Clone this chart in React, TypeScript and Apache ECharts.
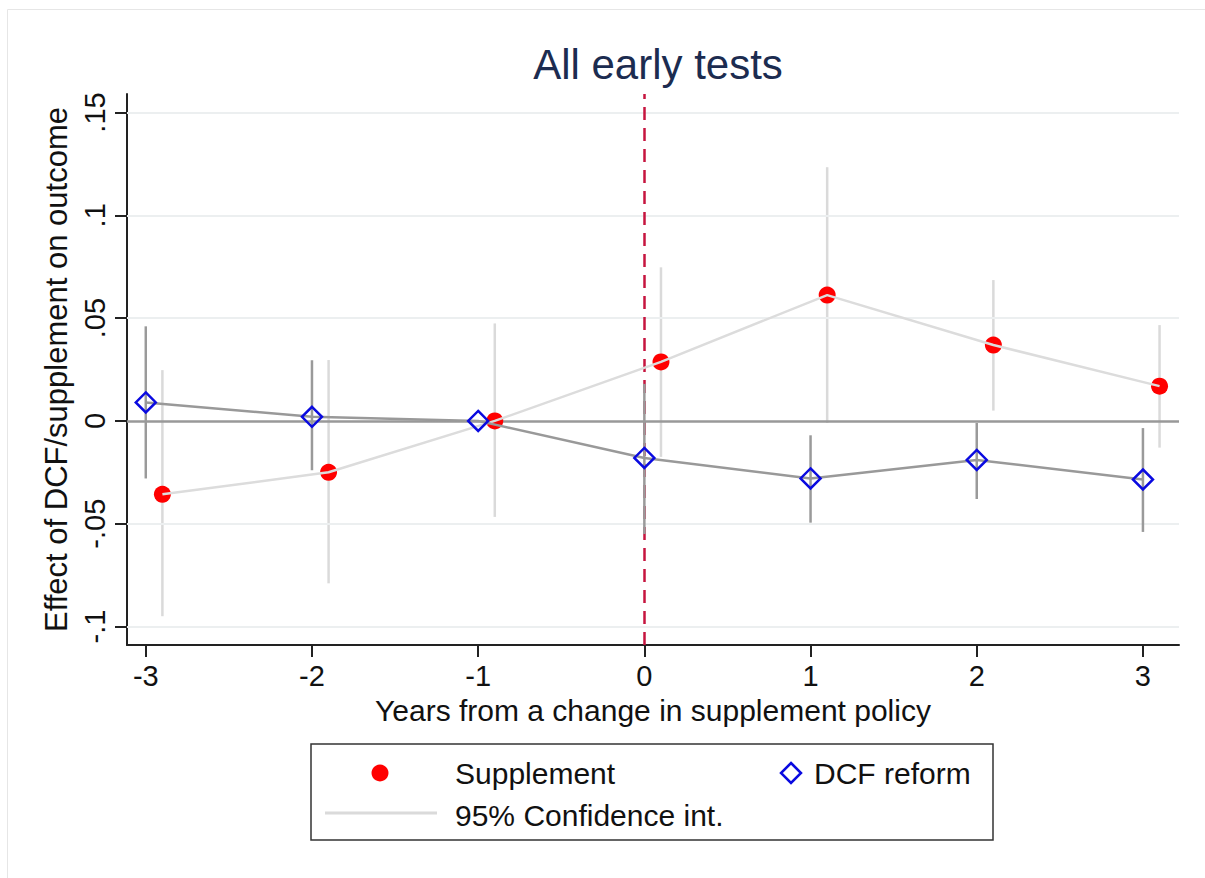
import React, { useEffect, useRef } from "react";
import * as echarts from "echarts";

// ---- data ----
const xTicks = [-3, -2, -1, 0, 1, 2, 3];
const yTicks = [-0.1, -0.05, 0, 0.05, 0.1, 0.15];
const yGridValues = [-0.1, -0.05, 0.05, 0.1, 0.15];

const dcfYears = [-3, -2, -1, 0, 1, 2, 3];
const dcfEst = [0.009, 0.002, 0, -0.018, -0.028, -0.019, -0.0285];
const dcfLo = [-0.028, -0.024, null, -0.055, -0.0495, -0.038, -0.054];
const dcfHi = [0.046, 0.0295, null, 0.018, -0.007, -0.001, -0.0035];

const suppYears = [-2.9, -1.9, -0.9, 0.1, 1.1, 2.1, 3.1];
const suppEst = [-0.0357, -0.025, 0, 0.0287, 0.0612, 0.0369, 0.0169];
const suppLo = [-0.095, -0.079, -0.0467, -0.0175, -0.001, 0.005, -0.013];
const suppHi = [0.0247, 0.0296, 0.0474, 0.0747, 0.1234, 0.0685, 0.0466];

const titleText = "All early tests";
const xTitle = "Years from a change in supplement policy";
const yTitle = "Effect of DCF/supplement on outcome";
const legendLabels = ["Supplement", "DCF reform", "95% Confidence int."];

const FONT = "'Liberation Sans', Arial, Helvetica, sans-serif";

function fmtY(v: number): string {
  if (Math.abs(v) < 1e-9) return "0";
  const s = String(parseFloat(v.toFixed(2)));
  return s.replace(/^(-?)0\./, "$1.");
}

function ciRender(color: string) {
  return (params: any, api: any) => {
    const lo = api.value(1);
    const hi = api.value(2);
    if (lo == null || hi == null || isNaN(lo) || isNaN(hi)) return null;
    const x = api.value(0);
    const p1 = api.coord([x, lo]);
    const p2 = api.coord([x, hi]);
    return {
      type: "line",
      shape: { x1: p1[0], y1: p1[1], x2: p2[0], y2: p2[1] },
      style: { stroke: color, lineWidth: 2.5 },
    };
  };
}

export default function App() {
  const ref = useRef<HTMLDivElement>(null);

  useEffect(() => {
    document.body.style.margin = "0";
    if (!ref.current) return;
    const chart = echarts.init(ref.current, undefined, { renderer: "svg" });

    const suppPts = suppYears.map((x, i) => [x, suppEst[i]]);
    const dcfPts = dcfYears.map((x, i) => [x, dcfEst[i]]);
    const suppCI = suppYears.map((x, i) => [x, suppLo[i], suppHi[i]]);
    const dcfCI = dcfYears.map((x, i) => [x, dcfLo[i] ?? NaN, dcfHi[i] ?? NaN]);

    const option: any = {
      animation: false,
      backgroundColor: "#ffffff",
      title: {
        text: titleText,
        left: 653,
        top: 38,
        textAlign: "center",
        textStyle: { fontFamily: FONT, fontSize: 42, fontWeight: "normal", color: "#1c2c50" },
      },
      grid: { left: 127, top: 94, right: 26, bottom: 233, containLabel: false },
      xAxis: {
        type: "value",
        min: -3.113,
        max: 3.217,
        name: xTitle,
        nameLocation: "middle",
        nameGap: 50,
        nameTextStyle: { fontFamily: FONT, fontSize: 30, color: "#111" },
        axisLine: { show: true, onZero: false, lineStyle: { color: "#222", width: 2 } },
        axisTick: { show: true, length: 12, customValues: xTicks, lineStyle: { color: "#222", width: 2 } },
        axisLabel: {
          customValues: xTicks,
          margin: 16,
          fontFamily: FONT,
          fontSize: 29,
          color: "#111",
          formatter: (v: number) => String(v),
        },
        splitLine: { show: false },
      },
      yAxis: {
        type: "value",
        min: -0.109,
        max: 0.159,
        name: yTitle,
        nameLocation: "middle",
        nameRotate: 90,
        nameGap: 52,
        nameTextStyle: { fontFamily: FONT, fontSize: 31, color: "#111" },
        axisLine: { show: true, onZero: false, lineStyle: { color: "#222", width: 2 } },
        axisTick: { show: true, length: 12, customValues: yTicks, lineStyle: { color: "#222", width: 2 } },
        axisLabel: {
          customValues: yTicks,
          rotate: 90,
          margin: 18,
          fontFamily: FONT,
          fontSize: 29,
          color: "#111",
          formatter: (v: number) => fmtY(v),
        },
        splitLine: { show: false },
      },
      series: [
        {
          name: "grid",
          type: "line",
          data: [],
          z: 1,
          silent: true,
          markLine: {
            silent: true,
            symbol: "none",
            label: { show: false },
            lineStyle: { color: "#eceff0", width: 2, type: "solid" },
            data: yGridValues.map((v) => ({ yAxis: v })),
          },
        },
        {
          name: "xline",
          type: "line",
          data: [],
          z: 2,
          silent: true,
          markLine: {
            silent: true,
            symbol: "none",
            label: { show: false },
            lineStyle: { color: "#c6153f", width: 2.5, type: [13, 8] },
            data: [{ xAxis: 0 }],
          },
        },
        {
          name: "zero",
          type: "line",
          data: [],
          z: 3,
          silent: true,
          markLine: {
            silent: true,
            symbol: "none",
            label: { show: false },
            lineStyle: { color: "#999999", width: 2.5, type: "solid" },
            data: [{ yAxis: 0 }],
          },
        },
        {
          name: "Supplement CI",
          type: "custom",
          z: 4,
          renderItem: ciRender("#dadada"),
          data: suppCI,
          encode: { x: 0, y: [1, 2] },
        },
        {
          name: "DCF CI",
          type: "custom",
          z: 5,
          renderItem: ciRender("#9a9a9a"),
          data: dcfCI,
          encode: { x: 0, y: [1, 2] },
        },
        {
          name: "Supplement",
          type: "scatter",
          z: 6,
          symbol: "circle",
          symbolSize: 17,
          itemStyle: { color: "#ff0000", opacity: 1 },
          data: suppPts,
        },
        {
          name: "Supplement line",
          type: "line",
          z: 7,
          symbol: "none",
          lineStyle: { color: "#dcdcdc", width: 2.5 },
          data: suppPts,
        },
        {
          name: "DCF line",
          type: "line",
          z: 8,
          symbol: "none",
          lineStyle: { color: "#999999", width: 2.5 },
          data: dcfPts,
        },
        {
          name: "DCF reform",
          type: "scatter",
          z: 9,
          symbol: "diamond",
          symbolSize: [20, 20],
          itemStyle: { color: "rgba(0,0,0,0)", borderColor: "#0a0ae0", borderWidth: 2.5, opacity: 1 },
          data: dcfPts,
        },
      ],
      graphic: [
        {
          type: "rect",
          shape: { x: 7.5, y: 9.5, width: 1200, height: 872 },
          style: { fill: "none", stroke: "#e6e6e6", lineWidth: 1 },
          silent: true,
        },
        {
          type: "group",
          children: [
            {
              type: "rect",
              shape: { x: 311, y: 744, width: 682, height: 96 },
              style: { fill: "#ffffff", stroke: "#333333", lineWidth: 1.5 },
            },
            {
              type: "circle",
              shape: { cx: 380, cy: 773, r: 8.5 },
              style: { fill: "#ff0000" },
            },
            {
              type: "text",
              x: 455,
              y: 773,
              style: {
                text: legendLabels[0],
                fontFamily: FONT,
                fontSize: 30,
                fill: "#111",
                textVerticalAlign: "middle",
                verticalAlign: "middle",
              },
            },
            {
              type: "polygon",
              shape: { points: [[791, 763], [801, 773], [791, 783], [781, 773]] },
              style: { fill: "none", stroke: "#0a0ae0", lineWidth: 2.5 },
            },
            {
              type: "text",
              x: 814,
              y: 773,
              style: {
                text: legendLabels[1],
                fontFamily: FONT,
                fontSize: 30,
                fill: "#111",
                textVerticalAlign: "middle",
                verticalAlign: "middle",
              },
            },
            {
              type: "line",
              shape: { x1: 325, y1: 813, x2: 437, y2: 813 },
              style: { stroke: "#dadada", lineWidth: 3 },
            },
            {
              type: "text",
              x: 455,
              y: 815,
              style: {
                text: legendLabels[2],
                fontFamily: FONT,
                fontSize: 30,
                fill: "#111",
                textVerticalAlign: "middle",
                verticalAlign: "middle",
              },
            },
          ],
        },
      ],
    };

    chart.setOption(option);
    return () => chart.dispose();
  }, []);

  return <div ref={ref} style={{ width: 1205, height: 878 }} />;
}
